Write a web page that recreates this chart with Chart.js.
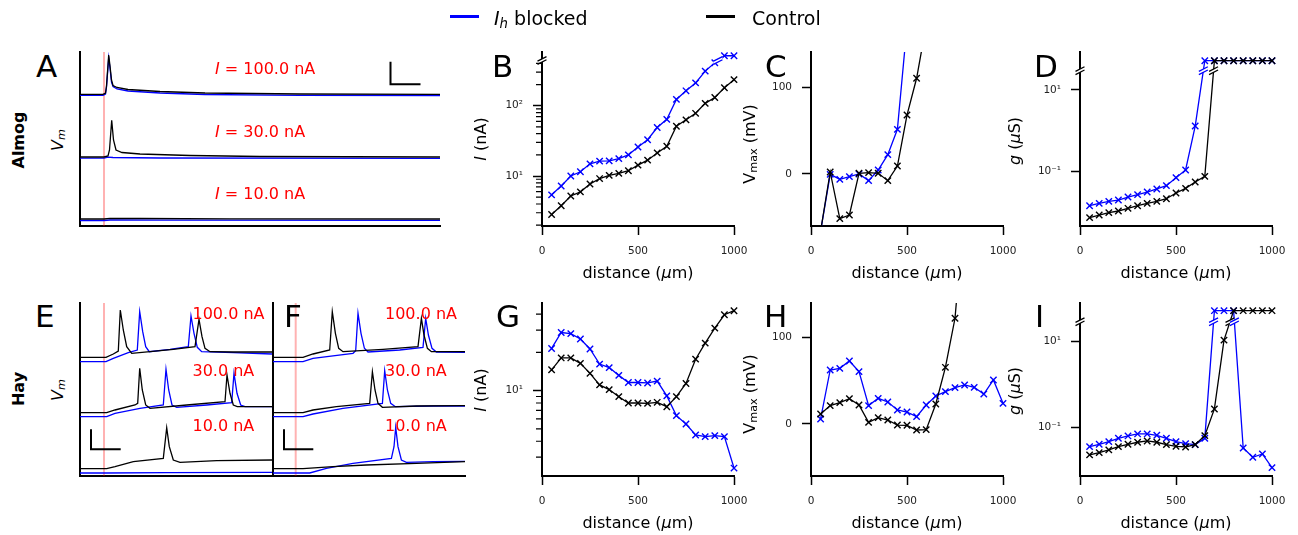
<!DOCTYPE html>
<html><head><meta charset="utf-8">
<script src="https://cdn.jsdelivr.net/npm/chart.js"></script>
<style>
html,body{margin:0;padding:0;background:#fff;}
#fig{position:relative;width:1298px;height:535px;overflow:hidden;background:#fff;font-family:'DejaVu Sans',sans-serif;}
#fig canvas{position:absolute;}
sub{font-size:0.7em;vertical-align:-0.25em;line-height:0;}
</style></head><body><div id="fig"></div>
<script>
// ---------------- data ----------------
const INF = Infinity; // "no spike" → drawn above the axis break
const distances = [50,100,150,200,250,300,350,400,450,500,550,600,650,700,750,800,850,900,950,1000];

// Almog model
const almogIBlocked = [5.4,7.2,10.0,11.5,14.9,16.3,16.4,17.7,20.0,25.9,32.8,49,64,123,163,211,311,408,INF,INF];
const almogICtrl    = [2.83,3.78,5.2,5.95,7.7,9.2,10.2,10.9,11.9,14.3,16.8,21.3,26.5,51,63,78,108,131,180,235];
const almogVBlocked = [-66,-0.4,-6.2,-3,0,-7.7,4.6,22.3,51.5,171,null,null,null,null,null,null,null,null,null,null];
const almogVCtrl    = [-66,2.3,-51.5,-47.3,0.8,1.5,0.8,-7.7,9.2,68,110.4,172,null,null,null,null,null,null,null,null];
const almogGBlocked = [0.0139,0.0159,0.0178,0.0192,0.0228,0.0261,0.0303,0.036,0.0435,0.0685,0.106,1.29,INF,INF,INF,INF,INF,INF,INF,INF];
const almogGCtrl    = [0.00705,0.0082,0.00936,0.0103,0.012,0.0139,0.0159,0.0178,0.0207,0.0286,0.0373,0.0535,0.0738,INF,INF,INF,INF,INF,INF,INF];

// Hay model
const hayIBlocked = [21.5,28.7,28.1,25.5,21.3,16.2,15.2,13.2,11.6,11.6,11.5,11.9,9.1,6.36,5.47,4.48,4.35,4.43,4.35,2.46];
const hayICtrl    = [14.6,18.1,18.1,16.4,13.7,11.1,10.2,8.97,8.0,8.0,7.95,8.1,7.48,8.97,11.4,17.7,23.7,31.1,39.6,42.6];
const hayVBlocked = [5.8,62.3,64.2,72.7,60.4,21.2,29.6,25.4,16.2,13.8,8.5,21.9,32.3,37.3,41.9,45,42.3,34.6,50.8,23.8];
const hayVCtrl    = [11.5,21.2,24.6,29.2,21.9,1.9,7.3,4.6,-1.2,-1.5,-6.9,-6.5,23.1,65.4,122,250,null,null,null,null];
const hayGBlocked = [0.0356,0.0404,0.0466,0.0556,0.063,0.0701,0.0701,0.0653,0.0556,0.0466,0.0419,0.0397,0.0556,INF,INF,INF,0.0332,0.0202,0.0241,0.0116];
const hayGCtrl    = [0.0229,0.0259,0.0299,0.0356,0.0404,0.045,0.0482,0.045,0.0397,0.0363,0.035,0.0397,0.0641,0.266,10.5,INF,INF,INF,INF,INF];

// tick values / labels
const xTicks = [0,500,1000];
const ticksB = [10,100];
const minorB = [2,3,4,5,6,7,8,9,20,30,40,50,60,70,80,90,200,300,400];
const ticksG = [10];
const minorG = [3,4,5,6,7,8,9,20,30,40];
const ticksDI = [0.1,10];
const ticksCH = [0,100];
const logLabels = new Map([[0.1,'10\u207B\u00B9'],[10,'10\u00B9'],[100,'10\u00B2']]);

// voltage traces [time (ms), stacked Vm (mV)]
const almog100Ctrl = [[0,131.7],[23,131.7],[25.5,133],[26.5,140],[28.7,171],[30,160],[31.5,146],[33,140.5],[37,138.5],[48,136.5],[80,134.5],[125,133],[220,132],[360,131.7]];
const almog100Blk  = [[0,130.7],[23,130.7],[25.5,132],[26.5,139],[28.7,168],[30,158],[31.5,144],[33,139.5],[37,137],[48,135],[80,133],[125,131.5],[220,130.7],[360,130.5]];
const almog30Ctrl  = [[0,69],[24,69],[28,70],[29.5,76],[31.7,105.7],[33.5,86],[36,76],[42,73.5],[60,72],[110,70.5],[180,69.5],[360,69]];
const almog30Blk   = [[0,67.8],[24,67.8],[28,68.8],[33,68.5],[80,68],[360,67.7]];
const almog10Ctrl  = [[0,7],[24,7],[30,7.7],[60,7.5],[150,7.2],[360,7]];
const almog10Blk   = [[0,5.5],[24,5.5],[30,6],[80,5.8],[360,5.6]];

const hayE100Ctrl = [[0,118.7],[26,118.7],[33.3,122],[38.3,125],[40.3,166],[43.3,146],[46.7,129.3],[51.7,122.7],[70,124.3],[93.3,126.7],[115,129.3],[119,156.7],[122,139.3],[125,127.7],[130,124.3],[153.3,124],[192,124]];
const hayE100Blk  = [[0,114.3],[26,114.3],[33.3,117.7],[48.3,123.3],[57.3,126],[59.7,164.3],[62.7,144.3],[65.7,129.3],[69.3,124.3],[90,126.7],[108.3,129.3],[111,160],[114,142.7],[117.3,128.7],[121.7,124.3],[153.3,123.3],[192,122]];
const hayE30Ctrl  = [[0,63.3],[26.7,63.3],[35,66],[55,71],[57.7,72.7],[59.7,107.7],[62.3,86],[65.7,71],[70,67.7],[106.7,71],[145,74.3],[147,101],[150,82.7],[153.3,71],[157.3,69.3],[192,69.3]];
const hayE30Blk   = [[0,59.3],[26.7,59.3],[35,62.7],[60,67.7],[83.3,71],[86,106.7],[88.7,86],[92,71],[96.7,68.7],[126.7,71],[151.7,73.3],[154,102.7],[157,82.7],[160.7,71],[165,69.3],[192,69.3]];
const hayE10Ctrl  = [[0,7.3],[26.7,7.3],[35,9.3],[53.3,14.3],[83.3,17.7],[86.7,48.3],[89.3,29.3],[93.3,16],[100,13.7],[136.7,15.3],[192,16]];
const hayE10Blk   = [[0,3],[26.7,3],[86.7,3.3],[192,3.7]];

const hayF100Ctrl = [[0,118.7],[30,118.7],[40,122],[56.7,126],[59.3,164.3],[62.4,142.7],[65.7,127.7],[70,124.3],[110,126.7],[145,129.3],[148.4,157.7],[151,141],[154.4,127.7],[158.4,124.3],[192,124.3]];
const hayF100Blk  = [[0,114.3],[30,114.3],[40,117.7],[80,122.7],[82.7,125.3],[85,162.7],[88,142.7],[91.4,127.7],[95,124],[126.7,126],[150,128.7],[152.7,157.7],[155.4,141],[159,127.7],[163.4,124],[192,123.7]];
const hayF30Ctrl  = [[0,63.3],[30,63.3],[40,66],[63.4,69.3],[96.7,72.7],[99.4,104.3],[102,86],[105,72.7],[109.4,68.7],[143.4,70],[192,70.3]];
const hayF30Blk   = [[0,59.3],[30,59.3],[40,62],[70,67.7],[109.4,72.7],[111.7,105.3],[114.4,86],[117.7,72.7],[122.4,69.3],[160,70],[192,70]];
const hayF10Ctrl  = [[0,7.3],[30,7.3],[60,9.3],[93.4,11],[143.4,12.7],[192,14.3]];
const hayF10Blk   = [[0,3],[36.7,3],[53.4,7.7],[80,12.7],[118.4,17.7],[121,29.3],[122.7,48.7],[125,29.3],[128.4,16],[133.4,13.7],[160,14.3],[192,14.7]];

const stimA = 24, stimE = 24, stimF = 22.7;
const scaleBarA = [[310.5,164.3],[310.5,141.7],[340.5,141.7]];
const scaleBarE = [[11,46.7],[11,26.7],[40.7,26.7]];
const scaleBarF = [[11,46.7],[11,26.7],[40.3,26.7]];

// ---------------- helpers ----------------
const BLUE = '#0000ff', BLACK = '#000000', PINK = 'rgba(255,0,0,0.3)', RED = '#ff0000';
const fig = document.getElementById('fig');
Chart.defaults.font.family = "'DejaVu Sans', sans-serif";

function drawBreak(ctx, x, y, color) {
  const dx = 4.5, dy = 2.3, g = 1.6;
  ctx.fillStyle = '#fff';
  ctx.beginPath();
  ctx.moveTo(x - dx, y - g + dy); ctx.lineTo(x + dx, y - g - dy);
  ctx.lineTo(x + dx, y + g - dy); ctx.lineTo(x - dx, y + g + dy);
  ctx.closePath(); ctx.fill();
  ctx.strokeStyle = color; ctx.lineWidth = 1.3;
  ctx.beginPath();
  ctx.moveTo(x - dx, y - g + dy); ctx.lineTo(x + dx, y - g - dy);
  ctx.moveTo(x - dx, y + g + dy); ctx.lineTo(x + dx, y + g - dy);
  ctx.stroke();
}
const breakPlugin = {
  id: 'axisBreak',
  afterDatasetsDraw(chart, args, opts) {
    if (!opts || opts.value == null) return;
    const ctx = chart.ctx, ys = chart.scales.y, a = chart.chartArea;
    const yb = ys.getPixelForValue(opts.value);
    ctx.save();
    drawBreak(ctx, a.left, yb, '#000');
    chart.data.datasets.forEach((ds, di) => {
      const src = ds.src; if (!src) return;
      const meta = chart.getDatasetMeta(di);
      for (let i = 0; i < src.length - 1; i++) {
        const u = src[i], v = src[i + 1];
        if (u == null || v == null) continue;
        if ((u === INF) !== (v === INF)) {
          const p = meta.data[i], q = meta.data[i + 1];
          const t = (yb - p.y) / (q.y - p.y);
          drawBreak(ctx, p.x + t * (q.x - p.x), yb, ds.borderColor);
        }
      }
    });
    ctx.restore();
  }
};
const minorTickPlugin = {
  id: 'minorTicks',
  afterDraw(chart, args, opts) {
    if (!opts || !opts.values || !opts.values.length) return;
    const ctx = chart.ctx, ys = chart.scales.y, x0 = chart.chartArea.left;
    ctx.save(); ctx.strokeStyle = '#000'; ctx.lineWidth = 1.2;
    ctx.beginPath();
    opts.values.forEach(v => {
      const py = ys.getPixelForValue(v);
      ctx.moveTo(x0 - 6, py); ctx.lineTo(x0, py);
    });
    ctx.stroke(); ctx.restore();
  }
};

function makeCanvas(area, Wy, Hx, pt, pr) {
  const cv = document.createElement('canvas');
  const w = Wy + (area.R - area.L) + pr, h = pt + (area.B - area.T) + Hx;
  cv.width = w; cv.height = h;
  cv.style.left = (area.L - Wy) + 'px'; cv.style.top = (area.T - pt) + 'px';
  cv.style.width = w + 'px'; cv.style.height = h + 'px';
  fig.appendChild(cv);
  return cv;
}

function seriesDS(vals, color, top) {
  return {
    src: vals,
    data: distances.map((d, i) => ({x: d, y: vals[i] === INF ? top : vals[i]})),
    borderColor: color, backgroundColor: color, borderWidth: 1.3,
    pointStyle: 'crossRot', pointRadius: 4.5, pointBorderWidth: 1.4,
    pointBorderColor: color, pointBackgroundColor: color,
    tension: 0, spanGaps: false,
    clip: {left: 8, top: 0, right: 10, bottom: 0}
  };
}

function plotPanel(area, y, sets, brk, minor) {
  const Wy = 60, Hx = 40, pt = 26, pr = 32;
  const cv = makeCanvas(area, Wy, Hx, pt, pr);
  new Chart(cv.getContext('2d'), {
    type: 'line',
    data: {datasets: sets},
    options: {
      responsive: false, maintainAspectRatio: false, animation: false, events: [],
      layout: {autoPadding: false, padding: {top: pt, right: pr, left: 0, bottom: 0}},
      plugins: {legend: {display: false}, tooltip: {enabled: false},
        axisBreak: brk || {}, minorTicks: {values: minor || []}},
      scales: {
        x: {type: 'linear', min: 0, max: 1000,
          afterBuildTicks: s => { s.ticks = xTicks.map(v => ({value: v})); },
          afterFit: s => { s.height = Hx; },
          ticks: {autoSkip: false, maxRotation: 0, padding: 10, color: '#222', font: {size: 10.5}, callback: v => String(v)},
          grid: {display: true, drawOnChartArea: false, drawTicks: true, tickLength: 9, tickWidth: 1.5, tickColor: '#000'},
          border: {display: true, width: 2, color: '#000'}},
        y: {type: y.type, min: y.min, max: y.max,
          afterBuildTicks: s => { s.ticks = y.ticks.map(v => ({value: v, major: true})); },
          afterFit: s => { s.width = Wy; },
          ticks: {autoSkip: false, padding: 10, color: '#222', font: {size: 10.5},
            callback: v => y.type === 'logarithmic' ? (logLabels.get(v) || '') : String(v)},
          grid: {display: true, drawOnChartArea: false, drawTicks: true, tickLength: 9, tickWidth: 1.5, tickColor: '#000'},
          border: {display: true, width: 2, color: '#000'}}
      }
    },
    plugins: [breakPlugin, minorTickPlugin]
  });
}

function traceDS(pts, color, w) {
  return {data: pts.map(([x, y]) => ({x, y})), borderColor: color, borderWidth: w || 1.3,
    pointRadius: 0, tension: 0, fill: false};
}
function tracePanel(area, xMax, yMax, sets) {
  const Wy = 10, Hx = 10, pt = 6, pr = 6;
  const cv = makeCanvas(area, Wy, Hx, pt, pr);
  new Chart(cv.getContext('2d'), {
    type: 'line',
    data: {datasets: sets},
    options: {
      responsive: false, maintainAspectRatio: false, animation: false, events: [],
      layout: {autoPadding: false, padding: {top: pt, right: pr, left: 0, bottom: 0}},
      plugins: {legend: {display: false}, tooltip: {enabled: false}},
      scales: {
        x: {type: 'linear', min: 0, max: xMax, afterFit: s => { s.height = Hx; },
          ticks: {display: false}, grid: {display: false}, border: {display: true, width: 2, color: '#000'}},
        y: {type: 'linear', min: 0, max: yMax, afterFit: s => { s.width = Wy; },
          ticks: {display: false}, grid: {display: false}, border: {display: true, width: 2, color: '#000'}}
      }
    }
  });
}

function txt(html, x, y, o = {}) {
  const d = document.createElement('div');
  d.innerHTML = html;
  const size = o.size || 16;
  d.style.position = 'absolute';
  d.style.whiteSpace = 'nowrap';
  d.style.fontSize = size + 'px';
  d.style.fontFamily = "'DejaVu Sans', sans-serif";
  d.style.color = o.color || '#000';
  if (o.weight) d.style.fontWeight = o.weight;
  d.style.left = x + 'px';
  if (o.center) {
    d.style.lineHeight = (1.164 * size) + 'px';
    d.style.top = y + 'px';
    d.style.transform = 'translate(-50%,-50%)' + (o.rotate ? ' rotate(-90deg)' : '');
  } else {
    d.style.lineHeight = size + 'px';
    d.style.top = (y - 0.846 * size) + 'px';
  }
  fig.appendChild(d);
}
function box(x, y, w, h, color) {
  const d = document.createElement('div');
  Object.assign(d.style, {position: 'absolute', left: x + 'px', top: y + 'px', width: w + 'px', height: h + 'px', background: color});
  fig.appendChild(d);
}

// ---------------- trace panels ----------------
const vline = (t, ymax) => [[t, 0], [t, ymax]];
tracePanel({L: 80, T: 52, R: 440, B: 226}, 360, 174, [
  traceDS(scaleBarA, BLACK, 2),
  traceDS(almog100Ctrl, BLACK), traceDS(almog100Blk, BLUE),
  traceDS(almog30Ctrl, BLACK), traceDS(almog30Blk, BLUE),
  traceDS(almog10Ctrl, BLACK), traceDS(almog10Blk, BLUE),
  traceDS(vline(stimA, 174), PINK, 2)
]);
tracePanel({L: 80, T: 303, R: 272, B: 476}, 192, 173, [
  traceDS(scaleBarE, BLACK, 2),
  traceDS(hayE100Ctrl, BLACK), traceDS(hayE100Blk, BLUE),
  traceDS(hayE30Ctrl, BLACK), traceDS(hayE30Blk, BLUE),
  traceDS(hayE10Ctrl, BLACK), traceDS(hayE10Blk, BLUE),
  traceDS(vline(stimE, 173), PINK, 2)
]);
tracePanel({L: 273, T: 303, R: 465, B: 476}, 192, 173, [
  traceDS(scaleBarF, BLACK, 2),
  traceDS(hayF100Ctrl, BLACK), traceDS(hayF100Blk, BLUE),
  traceDS(hayF30Ctrl, BLACK), traceDS(hayF30Blk, BLUE),
  traceDS(hayF10Ctrl, BLACK), traceDS(hayF10Blk, BLUE),
  traceDS(vline(stimF, 173), PINK, 2)
]);

// ---------------- distance panels ----------------
const topB = 514, topD = 52.8, topI = 50.4;
plotPanel({L: 542, T: 52, R: 734, B: 226}, {type: 'logarithmic', min: 1.945, max: 581, ticks: ticksB},
  [seriesDS(almogICtrl, BLACK, topB), seriesDS(almogIBlocked, BLUE, topB)], {value: 440}, minorB);
plotPanel({L: 811, T: 52, R: 1003, B: 226}, {type: 'linear', min: -60, max: 140.7, ticks: ticksCH},
  [seriesDS(almogVCtrl, BLACK, 0), seriesDS(almogVBlocked, BLUE, 0)]);
plotPanel({L: 1080, T: 52, R: 1272, B: 226}, {type: 'logarithmic', min: 0.00439, max: 86.7, ticks: ticksDI},
  [seriesDS(almogGCtrl, BLACK, topD), seriesDS(almogGBlocked, BLUE, topD)], {value: 30});
plotPanel({L: 542, T: 303, R: 734, B: 476}, {type: 'logarithmic', min: 2.13, max: 49.0, ticks: ticksG},
  [seriesDS(hayICtrl, BLACK, 0), seriesDS(hayIBlocked, BLUE, 0)], null, minorG);
plotPanel({L: 811, T: 303, R: 1003, B: 476}, {type: 'linear', min: -60, max: 139.6, ticks: ticksCH},
  [seriesDS(hayVCtrl, BLACK, 0), seriesDS(hayVBlocked, BLUE, 0)]);
plotPanel({L: 1080, T: 303, R: 1272, B: 476}, {type: 'logarithmic', min: 0.00743, max: 76, ticks: ticksDI},
  [seriesDS(hayGCtrl, BLACK, topI), seriesDS(hayGBlocked, BLUE, topI)], {value: 28});

// ---------------- text ----------------
// legend
box(450, 14.5, 29, 3, BLUE); txt('<i>I<sub>h</sub></i> blocked', 494, 25, {size: 19});
box(706, 14.5, 29, 3, BLACK); txt('Control', 752, 25, {size: 19});

// panel letters
[['A',36,77],['B',492,77],['C',765,77],['D',1034,77],['E',35,327],['F',284,327],['G',496,327],['H',764,327],['I',1035,327]]
  .forEach(([s, x, y]) => txt(s, x, y, {size: 31}));

// row labels
txt('Almog', 19, 140, {size: 16, weight: 'bold', center: true, rotate: true});
txt('Hay', 19, 389, {size: 16, weight: 'bold', center: true, rotate: true});
txt('<i>V<sub>m</sub></i>', 58, 140, {size: 16, center: true, rotate: true});
txt('<i>V<sub>m</sub></i>', 58, 390, {size: 16, center: true, rotate: true});

// stimulus labels
txt('<i>I</i> = 100.0 nA', 215, 74.3, {color: RED});
txt('<i>I</i> = 30.0 nA', 215, 137.3, {color: RED});
txt('<i>I</i> = 10.0 nA', 215, 200, {color: RED});
[['100.0 nA', 320], ['30.0 nA', 377], ['10.0 nA', 432]].forEach(([s, y]) => {
  txt(s, 192.5, y, {color: RED});
  txt(s, 385, y, {color: RED});
});

// axis titles
[273, 523].forEach(y => {
  txt('distance (<i>\u03BC</i>m)', 638, y, {center: true});
  txt('distance (<i>\u03BC</i>m)', 907, y, {center: true});
  txt('distance (<i>\u03BC</i>m)', 1176, y, {center: true});
});
txt('<i>I</i> (nA)', 480.5, 139, {center: true, rotate: true});
txt('<i>I</i> (nA)', 480.5, 389.5, {center: true, rotate: true});
txt('V<sub>max</sub> (mV)', 750, 144, {center: true, rotate: true});
txt('V<sub>max</sub> (mV)', 750, 394, {center: true, rotate: true});
txt('<i>g</i> (<i>\u03BC</i>S)', 1015, 141, {center: true, rotate: true});
txt('<i>g</i> (<i>\u03BC</i>S)', 1015, 391, {center: true, rotate: true});
</script></body></html>
